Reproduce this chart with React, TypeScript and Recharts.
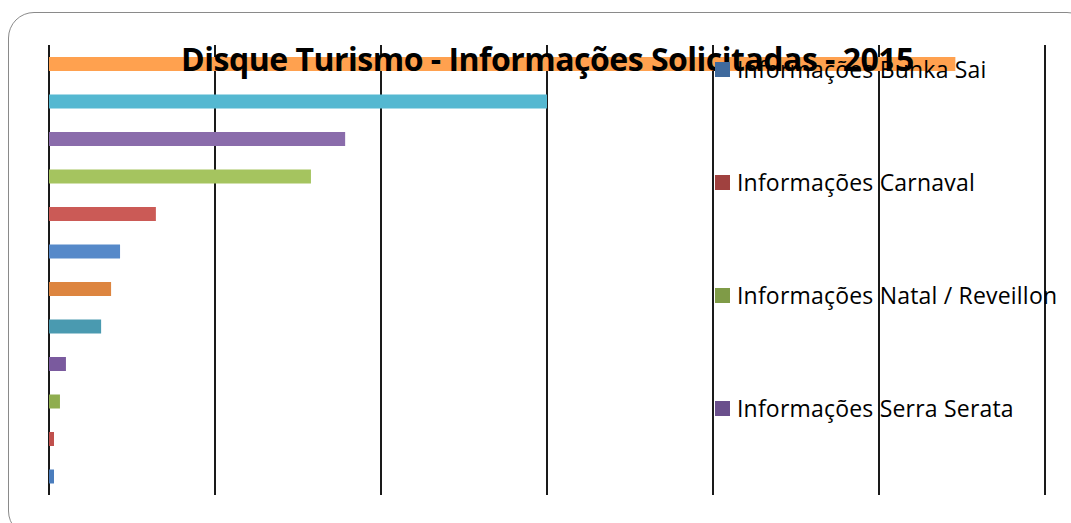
import React from 'react';
import { BarChart, Bar, XAxis, YAxis, CartesianGrid, Cell } from 'recharts';

// Excel order: first category sits at the bottom of the chart
const categories = [
  'Informações Bunka Sai',
  'Informações Carnaval',
  'Informações Natal / Reveillon',
  'Informações Serra Serata',
  'Informações Festival de Inverno',
  'Informações Hospedagem',
  'Informações Gastronomia',
  'Informações Eventos',
  'Informações Atrativos',
  'Informações Transporte',
  'Informações Roteiros',
  'Informações Gerais',
];
const values = [15, 15, 33, 51, 157, 187, 214, 322, 789, 892, 1500, 2730];
const barColors = [
  '#4a7dbd', '#c0504d', '#8fad4f', '#7a5a9e', '#4a9ab0', '#dd8540',
  '#5689c9', '#cb5a56', '#a5c45f', '#8a6cab', '#55b8d1', '#ffa14f',
];
const legendColors = ['#3f6a9d', '#a0413f', '#7f9b47', '#6a4f8c'];
const legendItems = categories.slice(0, 4);
const xTicks = [0, 500, 1000, 1500, 2000, 2500, 3000];

const data = categories.map((name, i) => ({ name, value: values[i] }));

export default function App() {
  return (
    <div style={{ position: 'absolute', left: 0, top: 0, width: 1071, height: 523, background: '#fff', overflow: 'hidden' }}>
      <div
        style={{
          position: 'absolute',
          left: 8,
          top: 12,
          width: 1085,
          height: 525,
          border: '1.5px solid #8a8a8a',
          borderRadius: 26,
          boxSizing: 'border-box',
        }}
      />
      <div style={{ position: 'absolute', left: 0, top: 0 }}>
        <BarChart
          width={1071}
          height={523}
          data={data}
          layout="vertical"
          margin={{ top: 45, right: 26, bottom: 28, left: 49 }}
          barCategoryGap={0}
        >
          <CartesianGrid vertical horizontal={false} stroke="#1a1a1a" strokeWidth={2} />
          <XAxis type="number" domain={[0, 3000]} ticks={xTicks} hide />
          <YAxis
            type="category"
            dataKey="name"
            reversed
            width={0}
            tick={false}
            tickLine={false}
            axisLine={{ stroke: '#8c8c8c', strokeWidth: 2 }}
          />
          <Bar dataKey="value" barSize={14} isAnimationActive={false}>
            {data.map((d, i) => (
              <Cell key={d.name} fill={barColors[i]} />
            ))}
          </Bar>
        </BarChart>
      </div>
      <div
        style={{
          position: 'absolute',
          left: 0,
          width: 1095,
          top: 37,
          textAlign: 'center',
          fontFamily: '"Open Sans", sans-serif',
          fontWeight: 700,
          fontSize: 32,
          letterSpacing: -0.5,
          lineHeight: 'normal',
          color: '#000',
          whiteSpace: 'nowrap',
        }}
      >
        Disque Turismo - Informações Solicitadas - 2015
      </div>
      {legendItems.map((name, i) => (
        <div
          key={name}
          style={{
            position: 'absolute',
            left: 715,
            top: 69 + i * 113 - 16,
            height: 32,
            display: 'flex',
            alignItems: 'center',
            fontFamily: '"Open Sans", sans-serif',
            fontSize: 23,
            letterSpacing: 0.2,
            color: '#000',
            whiteSpace: 'nowrap',
          }}
        >
          <span style={{ display: 'inline-block', width: 15, height: 15, background: legendColors[i], marginRight: 7 }} />
          {name}
        </div>
      ))}
    </div>
  );
}
